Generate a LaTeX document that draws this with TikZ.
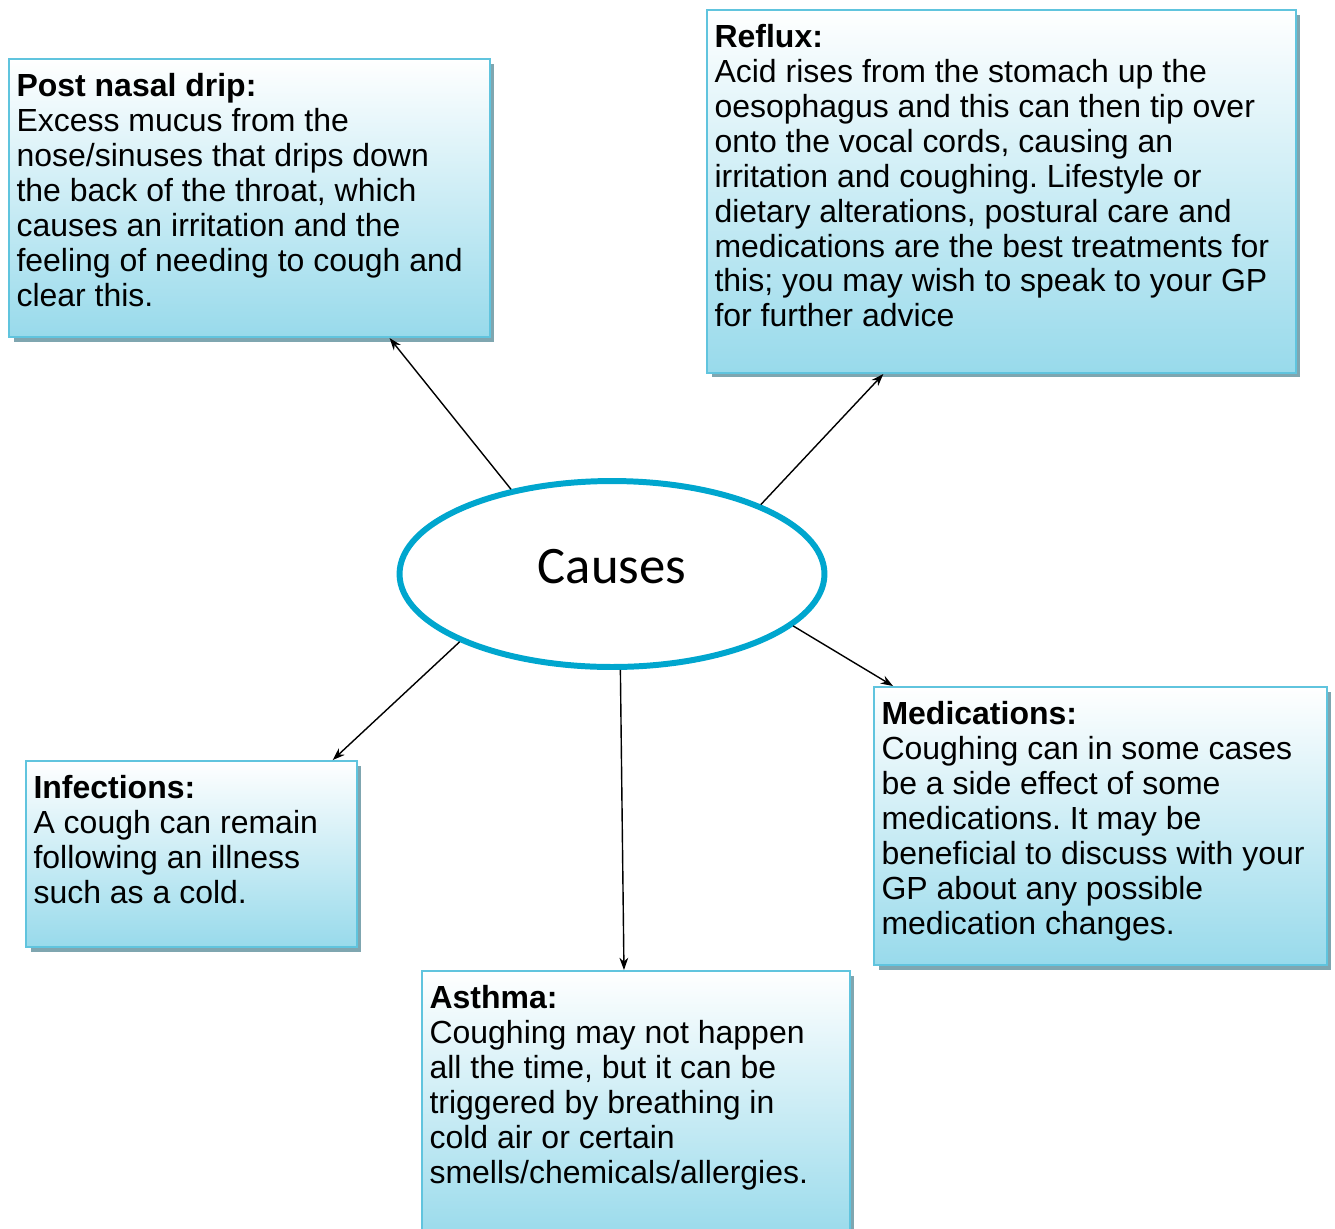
\documentclass[tikz,border=0pt]{standalone}
\usepackage{fontspec}
\setmainfont{Liberation Sans}
\newfontfamily\causefont{Carlito}
\usetikzlibrary{shapes.geometric,shadows,arrows.meta,calc}
\definecolor{boxblue}{RGB}{152,218,235}
\definecolor{boxline}{RGB}{96,196,222}
\definecolor{boxshadow}{RGB}{127,166,176}
\definecolor{ringblue}{RGB}{0,166,206}
\newcommand{\causetext}[4]{\parbox[t][#2][t]{#1}{\textbf{#3}\\#4}}
\frenchspacing
\tikzset{
  causebox/.style={draw=boxline, line width=1.2pt, top color=white, bottom color=boxblue,
    anchor=north west, inner xsep=0.15cm, inner ysep=0.28cm,
    font=\fontsize{18.2}{19.9}\selectfont,
    drop shadow={shadow xshift=0.09cm, shadow yshift=-0.09cm, fill=boxshadow, opacity=1}},
  causering/.style={ellipse, draw=ringblue, line width=3.4pt, minimum width=8.5cm,
    minimum height=3.72cm, inner sep=0pt, text depth=0.3cm,
    font=\causefont\fontsize{30}{36}\selectfont},
  link/.style={-{Stealth[length=7pt,width=5pt]}, line width=0.8pt}
}
\begin{document}
\begin{tikzpicture}[x=0.02cm,y=-0.02cm]
\useasboundingbox (0,0) rectangle (1335,1228);

\node[causebox] (pnd) at (8,58) {\causetext{9.32cm}{5.0cm}{Post nasal drip:}{%
Excess mucus from the\\
nose/sinuses that drips down\\
the back of the throat, which\\
causes an irritation and the\\
feeling of needing to cough and\\
clear this.}};

\node[causebox] (reflux) at (706,9) {\causetext{11.48cm}{6.7cm}{Reflux:}{%
Acid rises from the stomach up the\\
oesophagus and this can then tip over\\
onto the vocal cords, causing an\\
irritation and coughing. Lifestyle or\\
dietary alterations, postural care and\\
medications are the best treatments for\\
this; you may wish to speak to your GP\\
for further advice}};

\node[causebox] (infect) at (25,760) {\causetext{6.32cm}{3.16cm}{Infections:}{%
A cough can remain\\
following an illness\\
such as a cold.}};

\node[causebox] (asthma) at (421,970) {\causetext{8.26cm}{4.84cm}{Asthma:}{%
Coughing may not happen\\
all the time, but it can be\\
triggered by breathing in\\
cold air or certain\\
smells/chemicals/allergies.}};

\node[causebox] (meds) at (873,686) {\causetext{8.76cm}{5.0cm}{Medications:}{%
Coughing can in some cases\\
be a side effect of some\\
medications. It may be\\
beneficial to discuss with your\\
GP about any possible\\
medication changes.}};

\node[causering] (causes) at (612,574) {Causes};

\draw[link] (causes.140) -- ($(pnd.south west)!0.79!(pnd.south east)$);
\draw[link] (causes.25.5) -- ($(reflux.south west)!0.30!(reflux.south east)$);
\draw[link] (causes.-16.4) -- ($(meds.north west)!0.044!(meds.north east)$);
\draw[link] (causes.-85.5) -- ($(asthma.north west)!0.472!(asthma.north east)$);
\draw[link] (causes.204) -- ($(infect.north west)!0.924!(infect.north east)$);
\end{tikzpicture}
\end{document}
